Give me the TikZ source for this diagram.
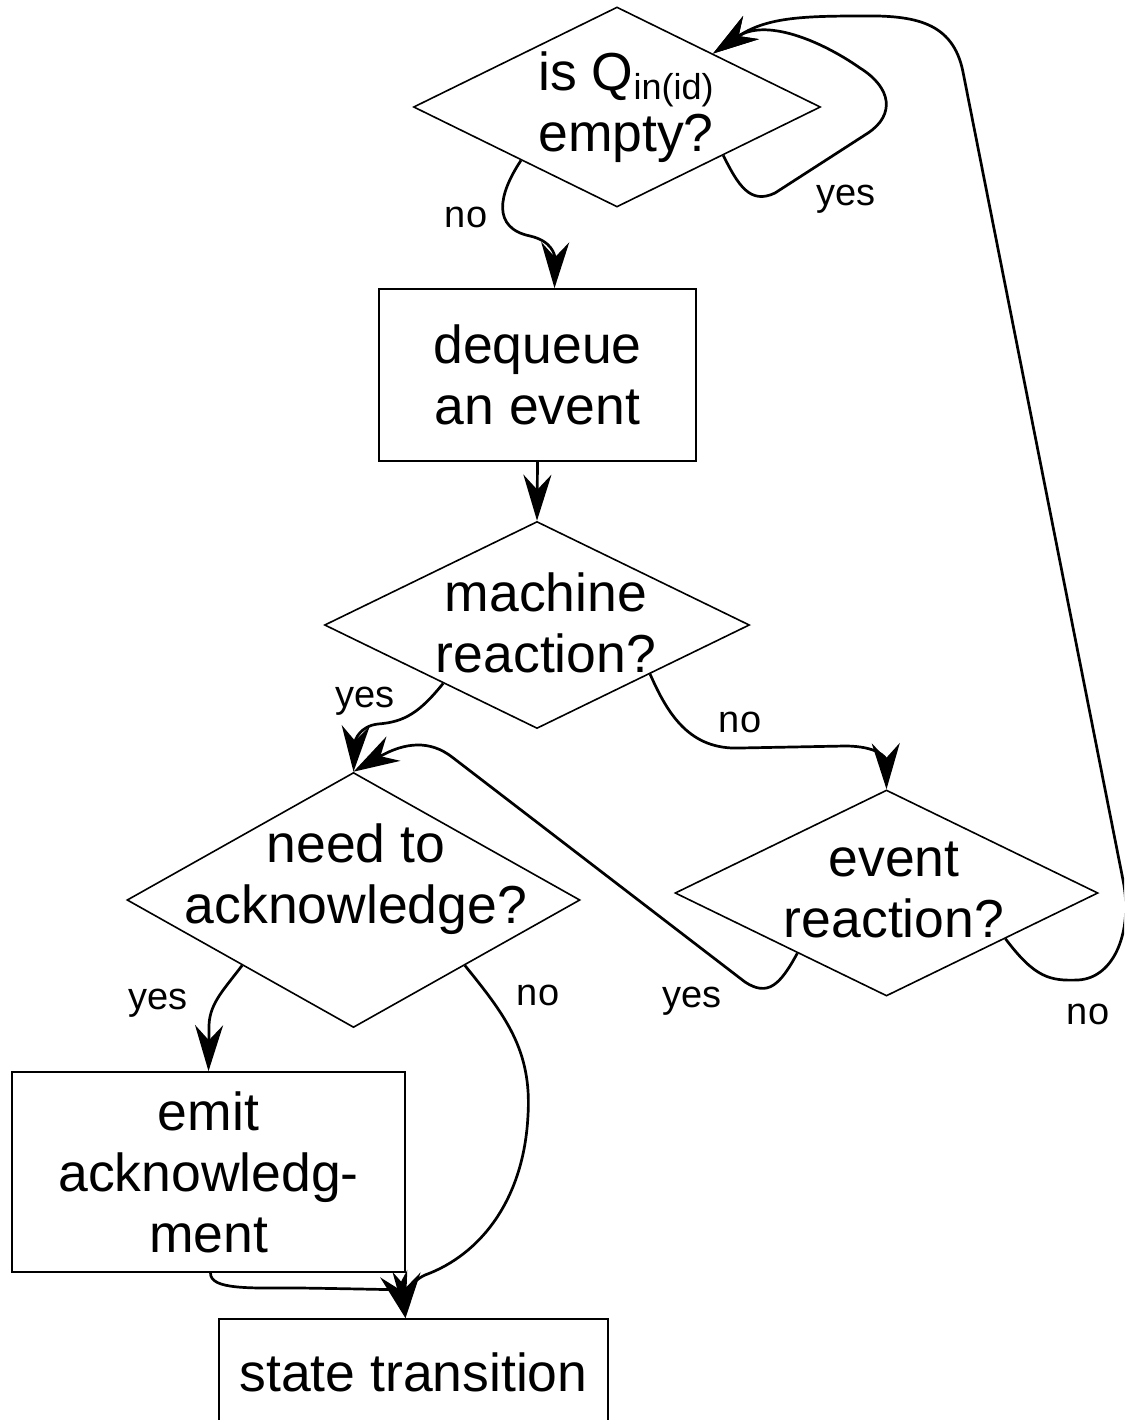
\documentclass[tikz,border=0pt]{standalone}
\usepackage{fontspec}
\setmainfont{Liberation Sans}
\usetikzlibrary{shapes.geometric,arrows.meta,calc}
\begin{document}
\begin{tikzpicture}[x=1pt,y=-1pt,
  shapeline/.style={draw=black, line width=1.6pt},
  dia/.style={shapeline, diamond, inner sep=0pt},
  box/.style={shapeline, rectangle, inner sep=0pt, font=\fontsize{53.5}{61}\selectfont, align=center},
  txt/.style={font=\fontsize{53.5}{61}\selectfont, align=center, inner sep=0pt},
  lbl/.style={font=\fontsize{38}{40}\selectfont, inner sep=0pt},
  conn/.style={line width=2.7pt, -{Stealth[length=46pt,width=28pt,inset=15pt]}},
]
\useasboundingbox (0,0) rectangle (1124,1420);
\clip (0,0) rectangle (1124,1420);

% shapes
\node[dia, minimum width=407pt, minimum height=200pt] (q) at (617,107) {};
\node[txt] (qt) at (626,107) {is Q\raisebox{-9pt}{\fontsize{36}{36}\selectfont in(id)}\\empty?};
\node[box, minimum width=317pt, minimum height=172pt] (deq) at (537.5,375) {dequeue\\an event};
\node[dia, minimum width=425pt, minimum height=207pt] (mr) at (537,625) {};
\node[txt] (mrt) at (546,623) {machine\\reaction?};
\node[dia, minimum width=453pt, minimum height=255pt] (ack) at (353.5,900) {};
\node[txt] (ackt) at (356,879) {need to\\acknowledge?};
\node[dia, minimum width=423pt, minimum height=206pt] (er) at (886.5,893) {};
\node[txt] (ert) at (894,890) {event\\reaction?};
\node[box, minimum width=393pt, minimum height=200pt] (emit) at (208.5,1172) {emit\\acknowledg-\\ment};
\node[box, minimum width=389pt, minimum height=106pt] (st) at (413.5,1372) {state transition};

% connectors
\draw[conn] ($(q.south)!0.47!(q.west)$) .. controls (498,195) and (492,228) .. (530,236) .. controls (552,241) and (555,255) .. ($(deq.north)+(17,0)$);
\draw[conn] ($(q.south)!0.52!(q.east)$) .. controls (738,185) and (750,205) .. (775,193) -- (868,133) .. controls (895,115) and (892,88) .. (860,68) .. controls (820,40) and (765,18) .. ($(q.north)!0.47!(q.east)$);
\draw[conn] ($(er.south)!0.56!(er.east)$) .. controls (1035,978) and (1050,981) .. (1078,980) .. controls (1115,978) and (1133,930) .. (1123,880) -- (963,72) .. controls (953,22) and (915,15) .. (860,16) .. controls (800,16) and (765,18) .. ($(q.north)!0.47!(q.east)$);
\draw[conn] (deq.south) -- (mr.north);
\draw[conn] ($(mr.south)!0.44!(mr.west)$) .. controls (420,712) and (405,722) .. (378,724) .. controls (360,726) and (355,740) .. (ack.north);
\draw[conn] ($(er.south)!0.42!(er.west)$) .. controls (780,985) and (768,997) .. (745,982) -- (452,757) .. controls (430,740) and (405,742) .. (ack.north);
\draw[conn] ($(mr.south)!0.53!(mr.east)$) .. controls (668,715) and (690,750) .. (740,748) -- (845,746) .. controls (878,746) and (886,758) .. (er.north);
\draw[conn] ($(ack.south)!0.49!(ack.west)$) .. controls (222,992) and (208,1005) .. (209,1030) -- (emit.north);
\draw[conn] ($(ack.south)!0.49!(ack.east)$) .. controls (505,1015) and (532,1050) .. (528,1115) .. controls (524,1200) and (480,1255) .. (425,1275) .. controls (410,1282) and (406,1295) .. ($(st.north)+(-8,0)$);
\draw[conn] ($(emit.south)+(2,0)$) .. controls (210,1290) and (250,1288) .. (300,1288) .. controls (370,1289) and (398,1290) .. ($(st.north)+(-8,0)$);

% labels
\node[lbl] (l1) at (466,217) {no};
\node[lbl] (l2) at (846,199) {yes};
\node[lbl] (l3) at (365,701) {yes};
\node[lbl] (l4) at (740,722) {no};
\node[lbl] (l5) at (158,1003) {yes};
\node[lbl] (l6) at (538,995) {no};
\node[lbl] (l7) at (692,1001) {yes};
\node[lbl] (l8) at (1088,1014) {no};
\end{tikzpicture}
\end{document}
